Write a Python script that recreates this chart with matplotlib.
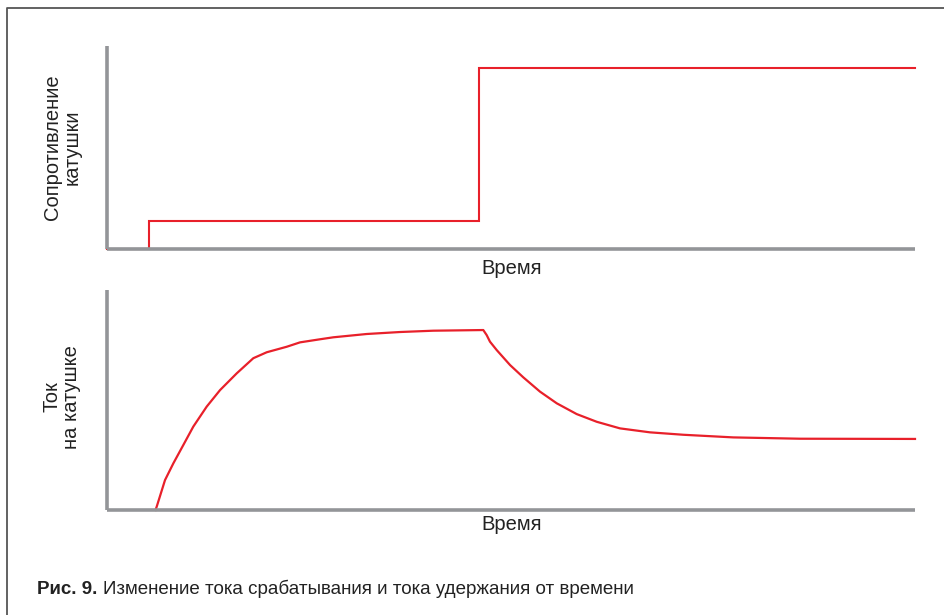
import matplotlib
matplotlib.use('Agg')
import matplotlib.pyplot as plt
from matplotlib.lines import Line2D

W, H = 945, 615

# top panel: coil resistance (step), time 0..10, value 0..1
res_t = [0.0, 0.52, 0.52, 4.60, 4.60, 10.0]
res_v = [0.0, 0.0, 0.138, 0.138, 0.89, 0.89]

# bottom panel: coil current
cur_t = [0.600, 0.615, 0.718, 0.821, 0.944, 1.068, 1.234, 1.399, 1.605, 1.811,
         1.977, 2.224, 2.389, 2.636, 2.801, 3.214, 3.626, 4.038, 4.657, 4.699,
         4.740, 4.823, 4.988, 5.152, 5.359, 5.566, 5.813, 6.061, 6.349, 6.720,
         7.132, 7.751, 8.577, 10.0]
cur_v = [0.0, 0.015, 0.136, 0.212, 0.295, 0.379, 0.470, 0.545, 0.621, 0.690,
         0.717, 0.742, 0.762, 0.776, 0.785, 0.800, 0.809, 0.815, 0.818, 0.795,
         0.765, 0.727, 0.659, 0.603, 0.538, 0.485, 0.436, 0.401, 0.371, 0.353,
         0.342, 0.330, 0.324, 0.323]

RED = '#e8202a'
GREY = '#939598'
TXT = '#222222'
FONT = ['Liberation Sans', 'DejaVu Sans']


def px_axes(fig, left, top, right, bottom):
    return fig.add_axes([left / W, 1 - bottom / H, (right - left) / W, (bottom - top) / H])


def style(ax):
    ax.set_xlim(0, 10)
    ax.set_ylim(0, 1)
    for s in ['top', 'right']:
        ax.spines[s].set_visible(False)
    for s in ['left', 'bottom']:
        ax.spines[s].set_color(GREY)
        ax.spines[s].set_linewidth(2.6)
        ax.spines[s].set_capstyle('butt')
    ax.set_xticks([])
    ax.set_yticks([])
    ax.patch.set_alpha(0)


fig = plt.figure(figsize=(W / 100, H / 100), dpi=100)

ax1 = px_axes(fig, 107, 46, 915, 249)
style(ax1)
ax1.plot(res_t, res_v, color=RED, lw=1.5, solid_joinstyle='miter', clip_on=False)

ax2 = px_axes(fig, 107, 290, 915, 510)
style(ax2)
ax2.plot(cur_t, cur_v, color=RED, lw=1.6, solid_joinstyle='round', clip_on=False)

# axis titles
fig.text(62 / W, 1 - 147 / H, 'Сопротивление\nкатушки', rotation=90, ha='center', va='center',
         multialignment='center', fontsize=14.5, family=FONT, color=TXT, linespacing=1.05)
fig.text(62 / W, 1 - 397 / H, 'Ток\nна катушке', rotation=90, ha='center', va='center',
         multialignment='center', fontsize=14.5, family=FONT, color=TXT, linespacing=1.05)
fig.text(512 / W, 1 - 268 / H, 'Время', ha='center', va='center', fontsize=14.5, family=FONT, color=TXT)
fig.text(512 / W, 1 - 525 / H, 'Время', ha='center', va='center', fontsize=14.5, family=FONT, color=TXT)

# caption: bold label, then plain text right after it
bold = fig.text(37 / W, 1 - 589 / H, 'Рис. 9.', ha='left', va='center', fontsize=13.5, family=FONT,
                weight='bold', color=TXT)
fig.canvas.draw()
bb = bold.get_window_extent()
fig.text((bb.x1 + 6) / W, 1 - 589 / H, 'Изменение тока срабатывания и тока удержания от времени',
         ha='left', va='center', fontsize=13.5, family=FONT, color=TXT)

# open frame around the figure
fig.add_artist(Line2D([7 / W, 7 / W, 1.0], [0.0, 1 - 8 / H, 1 - 8 / H], transform=fig.transFigure,
                      color='#555555', lw=1.3))

fig.savefig('out.png', dpi=100)
